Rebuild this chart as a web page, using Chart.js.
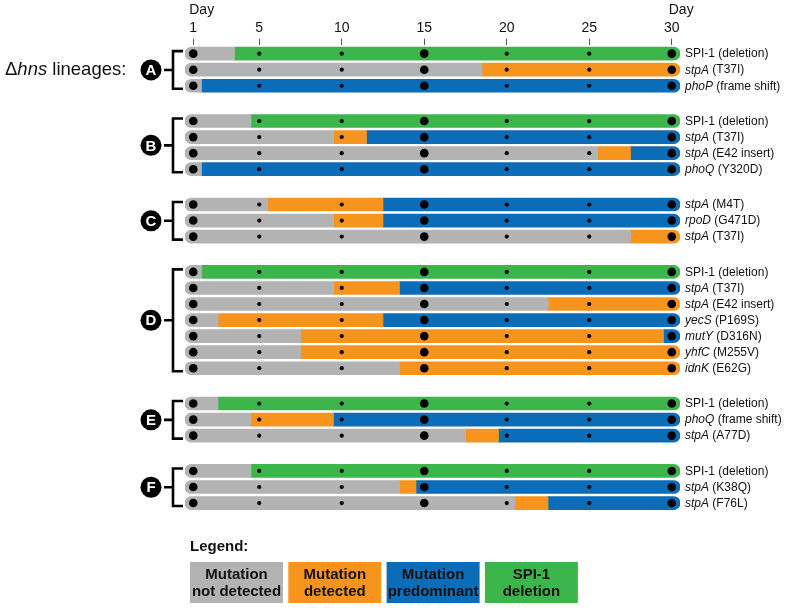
<!DOCTYPE html>
<html>
<head>
<meta charset="utf-8">
<script src="https://cdn.jsdelivr.net/npm/chart.js@4"></script>
<style>
  html, body { margin: 0; padding: 0; background: #fff; }
</style>
</head>
<body>
<canvas id="chart" width="785" height="608"></canvas>
<script>
// Lineages and how many mutations are tracked in each
const lineages = ['A', 'B', 'C', 'D', 'E', 'F'];
const lineageSizes = [3, 4, 3, 7, 3, 3];

// Row labels: gene (italic, except SPI-1) and change
const genes = ['SPI-1', 'stpA', 'phoP',
  'SPI-1', 'stpA', 'stpA', 'phoQ',
  'stpA', 'rpoD', 'stpA',
  'SPI-1', 'stpA', 'stpA', 'yecS', 'mutY', 'yhfC', 'idnK',
  'SPI-1', 'phoQ', 'stpA',
  'SPI-1', 'stpA', 'stpA'];
const changes = ['(deletion)', '(T37I)', '(frame shift)',
  '(deletion)', '(T37I)', '(E42 insert)', '(Y320D)',
  '(M4T)', '(G471D)', '(T37I)',
  '(deletion)', '(T37I)', '(E42 insert)', '(P169S)', '(D316N)', '(M255V)', '(E62G)',
  '(deletion)', '(frame shift)', '(A77D)',
  '(deletion)', '(K38Q)', '(F76L)'];

// Days where the state of each row changes, and the states in order
// N = not detected, D = detected, P = predominant, S = SPI-1 deletion
const rowBreaks = [[3.5], [18.5], [1.5],
  [4.5], [9.5, 11.5], [25.5, 27.5], [1.5],
  [5.5, 12.5], [9.5, 12.5], [27.5],
  [1.5], [9.5, 13.5], [22.5], [2.5, 12.5], [7.5, 29.5], [7.5], [13.5],
  [2.5], [4.5, 9.5], [17.5, 19.5],
  [4.5], [13.5, 14.5], [20.5, 22.5]];
const rowStates = [['N', 'S'], ['N', 'D'], ['N', 'P'],
  ['N', 'S'], ['N', 'D', 'P'], ['N', 'D', 'P'], ['N', 'P'],
  ['N', 'D', 'P'], ['N', 'D', 'P'], ['N', 'D'],
  ['N', 'S'], ['N', 'D', 'P'], ['N', 'D'], ['N', 'D', 'P'], ['N', 'D', 'P'], ['N', 'D'], ['N', 'D'],
  ['N', 'S'], ['N', 'D', 'P'], ['N', 'D', 'P'],
  ['N', 'S'], ['N', 'D', 'P'], ['N', 'D', 'P']];

// Sampling days (tick labels) and the ones marked with a big dot
const sampleDays = [1, 5, 10, 15, 20, 25, 30];
const bigDays = [1, 15, 30];

const stateKeys = ['N', 'D', 'P', 'S'];
const stateNames = [['Mutation', 'not detected'], ['Mutation', 'detected'],
  ['Mutation', 'predominant'], ['SPI-1', 'deletion']];
const stateColors = ['#b3b3b3', '#f7941e', '#0b6cb7', '#3cb54a'];

const FONT = '"Liberation Sans", Arial, Helvetica, sans-serif';
const GROUP_GAP = 1.2;

// Row positions on the y scale, with a gap between lineages
const rowPos = [];
const groupRows = [];
let pos = 0;
lineageSizes.forEach(n => {
  const rows = [];
  for (let i = 0; i < n; i++) { rows.push(rowPos.length); rowPos.push(pos++); }
  groupRows.push(rows);
  pos += GROUP_GAP;
});

// Bar segments per state
const segments = stateKeys.map(() => []);
rowStates.forEach((states, r) => {
  const edges = [sampleDays[0] - 0.5, ...rowBreaks[r], sampleDays[sampleDays.length - 1] + 0.5];
  states.forEach((s, k) => {
    segments[stateKeys.indexOf(s)].push({
      x: [edges[k], edges[k + 1]], y: rowPos[r],
      first: k === 0, last: k === states.length - 1
    });
  });
});

const barSets = stateKeys.map((s, i) => ({
  type: 'bar',
  data: segments[i],
  backgroundColor: stateColors[i],
  borderWidth: 0,
  borderSkipped: false,
  grouped: false,
  barThickness: 13,
  borderRadius: c => {
    const raw = c.raw || {};
    const l = raw.first ? 7 : 0, r = raw.last ? 7 : 0;
    return { topLeft: l, bottomLeft: l, topRight: r, bottomRight: r };
  },
  order: 2
}));

const dotSet = (days, radius) => ({
  type: 'scatter',
  data: rowPos.flatMap(p => days.map(d => ({ x: d, y: p }))),
  pointRadius: radius,
  pointBackgroundColor: '#000',
  pointBorderWidth: 0,
  order: 1
});

const decor = {
  id: 'decor',
  afterDraw(chart) {
    const { ctx, scales: { x, y } } = chart;
    ctx.save();
    ctx.fillStyle = '#111';
    ctx.textBaseline = 'middle';

    // "Day" headers
    ctx.font = '14px ' + FONT;
    ctx.textAlign = 'left';
    ctx.fillText('Day', x.getPixelForValue(1) - 4, 10);
    ctx.fillText('Day', x.getPixelForValue(30) - 3, 10);

    // Row labels
    const lx = x.right + 5;
    rowPos.forEach((p, r) => {
      const yy = y.getPixelForValue(p) + 0.5;
      const italic = genes[r] !== 'SPI-1';
      ctx.font = (italic ? 'italic ' : '') + '12px ' + FONT;
      ctx.fillText(genes[r], lx, yy);
      const w = ctx.measureText(genes[r] + ' ').width;
      ctx.font = '12px ' + FONT;
      ctx.fillText(changes[r], lx + w, yy);
    });

    // Lineage brackets and badges
    groupRows.forEach((rows, g) => {
      const top = y.getPixelForValue(rowPos[rows[0]]) - 2.5;
      const bot = y.getPixelForValue(rowPos[rows[rows.length - 1]]) + 3;
      const mid = (top + bot) / 2;
      ctx.strokeStyle = '#000';
      ctx.lineWidth = 2.6;
      ctx.beginPath();
      ctx.moveTo(183, top); ctx.lineTo(173, top); ctx.lineTo(173, bot); ctx.lineTo(183, bot);
      ctx.moveTo(164, mid); ctx.lineTo(173, mid);
      ctx.stroke();
      ctx.fillStyle = '#000';
      ctx.beginPath();
      ctx.arc(151, mid, 10.5, 0, Math.PI * 2);
      ctx.fill();
      ctx.fillStyle = '#fff';
      ctx.textAlign = 'center';
      ctx.font = 'bold 15px ' + FONT;
      ctx.fillText(lineages[g], 151, mid + 1);
    });

    // Lineage title
    const ay = (y.getPixelForValue(rowPos[groupRows[0][0]]) + y.getPixelForValue(rowPos[groupRows[0][2]])) / 2;
    ctx.fillStyle = '#111';
    ctx.textAlign = 'left';
    let tx = 5;
    [['Δ', ''], ['hns', 'italic '], [' lineages:', '']].forEach(([t, st]) => {
      ctx.font = st + '18.5px ' + FONT;
      ctx.fillText(t, tx, ay);
      tx += ctx.measureText(t).width;
    });

    // Legend
    ctx.font = 'bold 15px ' + FONT;
    ctx.fillText('Legend:', 190, 547);
    stateColors.forEach((c, i) => {
      const bx = 190 + i * 98.3;
      ctx.fillStyle = c;
      ctx.fillRect(bx, 562, 93, 41);
      ctx.fillStyle = '#111';
      ctx.textAlign = 'center';
      ctx.fillText(stateNames[i][0], bx + 46.5, 574.5);
      ctx.fillText(stateNames[i][1], bx + 46.5, 592);
      ctx.textAlign = 'left';
    });
    ctx.restore();
  }
};

new Chart(document.getElementById('chart'), {
  type: 'bar',
  data: { datasets: [...barSets, dotSet(bigDays, 4.3), dotSet(sampleDays.filter(d => !bigDays.includes(d)), 2.1)] },
  options: {
    indexAxis: 'y',
    responsive: false,
    animation: false,
    layout: { padding: { left: 185, right: 105, top: 18, bottom: 95 } },
    plugins: { legend: { display: false }, tooltip: { enabled: false } },
    scales: {
      x: {
        type: 'linear',
        position: 'top',
        min: 0.5,
        max: 30.5,
        offset: false,
        afterBuildTicks: s => { s.ticks = sampleDays.map(v => ({ value: v })); },
        grid: { drawOnChartArea: false, tickLength: 6, color: '#555', lineWidth: 1 },
        border: { display: false },
        ticks: { font: { size: 14, family: FONT }, color: '#111', padding: 2 }
      },
      y: {
        type: 'linear',
        reverse: true,
        display: false,
        offset: false,
        min: -0.55,
        max: 28.62
      }
    }
  },
  plugins: [decor]
});
</script>
</body>
</html>
